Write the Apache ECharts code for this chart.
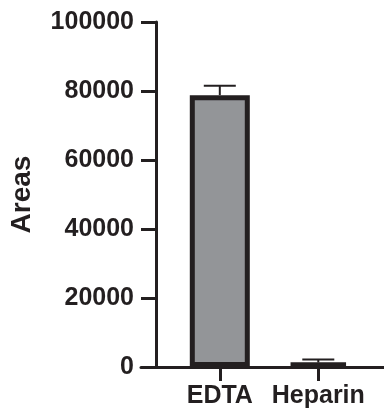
<!DOCTYPE html>
<html><head><meta charset="utf-8">
<script src="https://cdn.jsdelivr.net/npm/echarts@6/dist/echarts.min.js"></script>
<style>html,body{margin:0;padding:0;background:#fff}#c{width:384px;height:412px}</style>
</head><body><div id="c"></div>
<script>
var categories = ['EDTA', 'Heparin'];
var means = [78800, 1300];
var errors = [2700, 900];
var yTicks = [0, 20000, 40000, 60000, 80000, 100000];

var chart = echarts.init(document.getElementById('c'), null, {renderer: 'canvas'});
var positions = categories.map(function (c, i) { return i + 1; });
var font = 'Liberation Sans, Arial, sans-serif';
chart.setOption({
  animation: false,
  grid: {left: 140, right: 0, top: 22, bottom: 45},
  xAxis: {
    type: 'value', min: 0.2, max: 2.667,
    splitLine: {show: false},
    axisLine: {show: true, onZero: false, lineStyle: {color: '#231f20', width: 3}},
    axisTick: {show: true, customValues: positions, length: 14, lineStyle: {color: '#231f20', width: 3}},
    axisLabel: {customValues: positions, color: '#231f20', fontWeight: 'bold', fontSize: 25, fontFamily: font, margin: 17,
      formatter: function (v) { return categories[Math.round(v) - 1] || ''; }}
  },
  yAxis: {
    type: 'value', min: 0, max: 100000, interval: 20000, offset: -15,
    name: 'Areas', nameLocation: 'middle', nameGap: 120, nameRotate: 90,
    nameTextStyle: {color: '#231f20', fontWeight: 'bold', fontSize: 28, fontFamily: font},
    splitLine: {show: false},
    axisLine: {show: true, lineStyle: {color: '#231f20', width: 3}},
    axisTick: {show: true, length: 15, lineStyle: {color: '#231f20', width: 3}},
    axisLabel: {color: '#231f20', fontWeight: 'bold', fontSize: 25, fontFamily: font, margin: 22,
      formatter: function (v) { return yTicks.indexOf(v) >= 0 ? String(v) : ''; }}
  },
  series: [{
    type: 'bar', barWidth: 60,
    data: positions.map(function (p, i) { return [p, means[i]]; }),
    itemStyle: {color: '#939598', borderColor: '#231f20', borderWidth: 5},
    z: 2
  }, {
    type: 'custom',
    data: positions.map(function (p, i) { return [p, means[i], means[i] + errors[i]]; }),
    renderItem: function (params, api) {
      var x = api.value(0);
      var top = api.coord([x, api.value(2)]);
      var base = api.coord([x, api.value(1)]);
      var half = 16;
      return {type: 'group', children: [
        {type: 'line', shape: {x1: top[0], y1: top[1], x2: base[0], y2: base[1]}, style: {stroke: '#231f20', lineWidth: 2}},
        {type: 'line', shape: {x1: top[0] - half, y1: top[1], x2: top[0] + half, y2: top[1]}, style: {stroke: '#231f20', lineWidth: 2}}
      ]};
    },
    z: 1
  }]
});
</script></body></html>
